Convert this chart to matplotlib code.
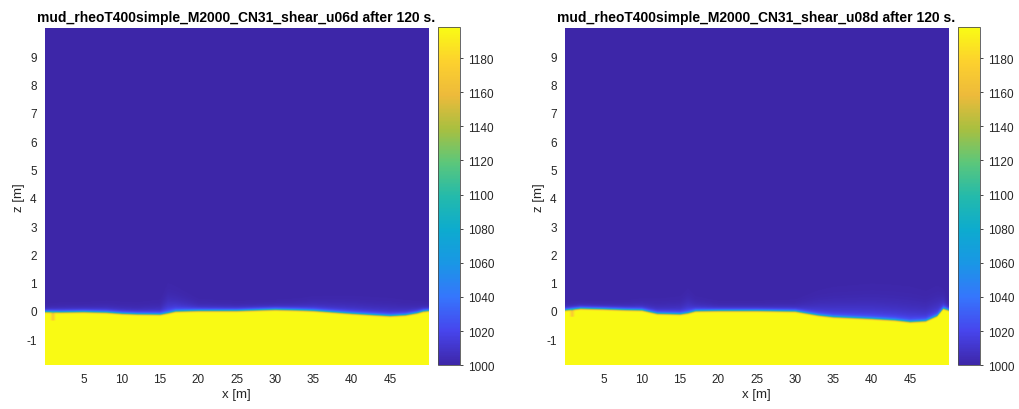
import numpy as np
import matplotlib
matplotlib.use("Agg")
import matplotlib.pyplot as plt
from matplotlib.colors import LinearSegmentedColormap

plt.rcParams["font.family"] = ["Liberation Sans", "DejaVu Sans"]
plt.rcParams["axes.unicode_minus"] = False

titles = ["mud_rheoT400simple_M2000_CN31_shear_u06d after 120 s.",
          "mud_rheoT400simple_M2000_CN31_shear_u08d after 120 s."]

# interface (top of the dense mud layer)
x_pts = [0, 2, 5, 8, 10, 12, 15, 16, 17, 20, 25, 30, 33, 35, 40, 43, 45, 47, 48.5, 49.3, 50]
h_left = [-0.06, -0.07, -0.06, -0.08, -0.12, -0.14, -0.15, -0.10, -0.04, -0.02, -0.02, 0.02, 0.0,
          -0.02, -0.12, -0.17, -0.20, -0.17, -0.10, -0.04, -0.02]
h_right = [0.0, 0.06, 0.04, 0.01, 0.0, -0.12, -0.14, -0.10, -0.03, -0.02, -0.02, -0.04, -0.18,
           -0.24, -0.30, -0.35, -0.41, -0.38, -0.20, 0.06, 0.0]
# thickness of the diffuse light layer above the interface
d_left = [0.08, 0.10, 0.10, 0.12, 0.12, 0.12, 0.15, 0.30, 0.25, 0.12, 0.10, 0.10, 0.12,
          0.15, 0.18, 0.18, 0.18, 0.15, 0.12, 0.10, 0.08]
d_right = [0.08, 0.08, 0.08, 0.10, 0.12, 0.15, 0.18, 0.25, 0.15, 0.10, 0.10, 0.12, 0.25,
           0.30, 0.35, 0.35, 0.35, 0.30, 0.30, 0.20, 0.10]
# thin darker streak reaching down into the mud near the left wall
streak_x = [1.0, 0.9]
streak_depth = [0.30, 0.25]

vmin, vmax = 1000, 1198
cticks = [1000, 1020, 1040, 1060, 1080, 1100, 1120, 1140, 1160, 1180]

parula = LinearSegmentedColormap.from_list("parula", [
    (0.00, (0.2422, 0.1504, 0.6603)),
    (0.10, (0.2780, 0.2700, 0.9300)),
    (0.20, (0.2100, 0.4600, 0.9900)),
    (0.30, (0.1000, 0.5900, 0.9000)),
    (0.40, (0.0500, 0.6700, 0.8100)),
    (0.50, (0.1400, 0.7300, 0.6700)),
    (0.60, (0.3600, 0.7800, 0.4800)),
    (0.70, (0.6600, 0.7500, 0.2500)),
    (0.80, (0.9300, 0.7300, 0.2300)),
    (0.90, (0.9900, 0.8200, 0.1800)),
    (1.00, (0.9769, 0.9839, 0.0805)),
])

xg = np.linspace(0, 50, 600)
zg = np.linspace(-1.92, 10, 700)
X, Z = np.meshgrid(xg, zg)

fig = plt.figure(figsize=(10.19, 4.10), dpi=100)
axes_pos = [[0.0442, 0.107, 0.3760, 0.822], [0.5545, 0.107, 0.3760, 0.822]]
cbar_pos = [[0.4297, 0.107, 0.0216, 0.824], [0.9400, 0.107, 0.0216, 0.824]]
txt = (0.15, 0.15, 0.15)

for i, (h_pts, d_pts) in enumerate([(h_left, d_left), (h_right, d_right)]):
    h = np.interp(xg, x_pts, h_pts)[None, :]
    d = np.interp(xg, x_pts, d_pts)[None, :]
    dz = Z - h
    core = 0.5 * (1 - np.tanh((dz + 0.02) / 0.025))
    above = np.where(dz > 0, 0.42 * np.exp(-dz / 0.04) + 0.14 * np.exp(-dz / d), 0.56)
    f = core + (1 - core) * above
    # streak
    sx = np.exp(-((X - streak_x[i]) / 0.25) ** 2)
    inside = (dz < 0) & (dz > -streak_depth[i])
    f = np.where(inside, f - 0.12 * sx, f)
    f = np.clip(f, 0, 1)
    rho = vmin + (vmax - vmin) * f
    ax = fig.add_axes(axes_pos[i])
    im = ax.imshow(rho, extent=[0, 50, -1.92, 10], origin="lower", aspect="auto",
                   cmap=parula, vmin=vmin, vmax=vmax, interpolation="bilinear")
    ax.set_xticks(range(5, 50, 5))
    ax.set_yticks(range(-1, 10))
    ax.tick_params(length=0, labelsize=8.5, colors=txt, pad=6)
    for s in ax.spines.values():
        s.set_visible(False)
    ax.set_xlabel("x [m]", fontsize=9.5, color=txt, labelpad=2)
    ax.set_ylabel("z [m]", fontsize=9.5, color=txt, labelpad=1)
    ax.set_title(titles[i], fontsize=10, fontweight="bold", pad=5)

    cax = fig.add_axes(cbar_pos[i])
    cb = fig.colorbar(im, cax=cax, ticks=cticks)
    cb.ax.tick_params(labelsize=8.5, colors=txt, length=2.5, width=0.6, direction="out")
    cb.outline.set_linewidth(0.6)
    cb.outline.set_edgecolor((0.3, 0.3, 0.3))

fig.savefig("out.png", dpi=100)
